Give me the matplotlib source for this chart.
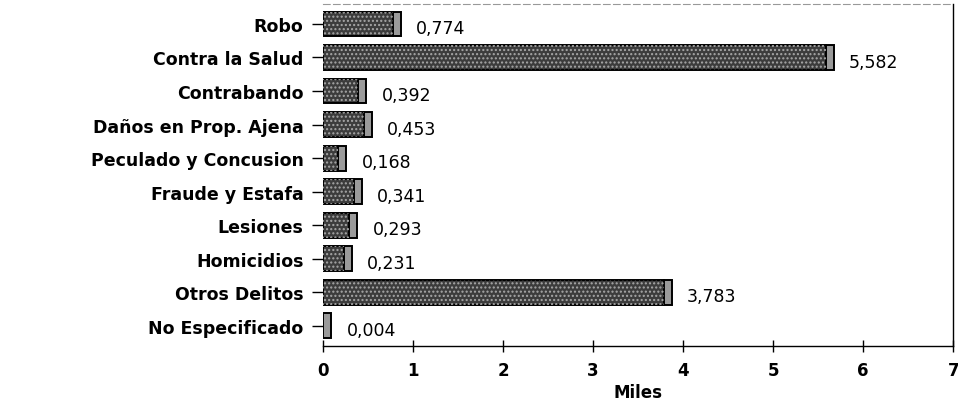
import numpy as np
import matplotlib.pyplot as plt

categorias = ["Robo", "Contra la Salud", "Contrabando", "Daños en Prop. Ajena",
              "Peculado y Concusion", "Fraude y Estafa", "Lesiones", "Homicidios",
              "Otros Delitos", "No Especificado"]
valores = [0.774, 5.582, 0.392, 0.453, 0.168, 0.341, 0.293, 0.231, 3.783, 0.004]
etiquetas = ["0,774", "5,582", "0,392", "0,453", "0,168", "0,341", "0,293", "0,231", "3,783", "0,004"]
xticks = [0, 1, 2, 3, 4, 5, 6, 7]

plt.rcParams['font.family'] = ['DejaVu Sans']

fig = plt.figure(figsize=(9.58, 4.02), dpi=100)
ax = fig.add_axes([0.337, 0.137, 0.658, 0.851])

y = np.arange(len(categorias))
depth = 0.09  # fake 3D end cap

# main bar body
ax.barh(y, valores, height=0.74, color='#3c3c3c', edgecolor='black', linewidth=1.4, zorder=2)
# speckle texture
ax.barh(y, valores, height=0.74, color='none', edgecolor='#a8a8a8', linewidth=0,
        hatch='....', zorder=3)
# end cap
ax.barh(y, [depth] * len(y), left=valores, height=0.74, color='#9a9a9a',
        edgecolor='black', linewidth=1.4, zorder=2)

for yi, v, lab in zip(y, valores, etiquetas):
    ax.annotate(lab, (v, yi), xytext=(17, -3), textcoords='offset points',
                va='center', ha='left', fontsize=12.5)

ax.set_xlim(0, 7)
ax.set_ylim(len(categorias) - 0.4, -0.6)
ax.set_xticks(xticks)
ax.set_xticklabels([str(t) for t in xticks], fontsize=12, fontweight='bold')
ax.set_yticks(y)
ax.set_yticklabels(categorias, fontsize=12.5, fontweight='bold')
ax.set_xlabel("Miles", fontsize=12, fontweight='bold', labelpad=3)

ax.tick_params(axis='y', length=8, width=1, pad=6)
ax.tick_params(axis='x', direction='inout', length=8, width=1, pad=7)

ax.spines['left'].set_visible(False)
ax.spines['top'].set_color('#999999')
ax.spines['top'].set_linestyle((0, (6, 3)))
ax.spines['top'].set_linewidth(0.8)
ax.spines['right'].set_linewidth(1.0)
ax.spines['bottom'].set_linewidth(1.0)

fig.savefig("out.png", dpi=100)
